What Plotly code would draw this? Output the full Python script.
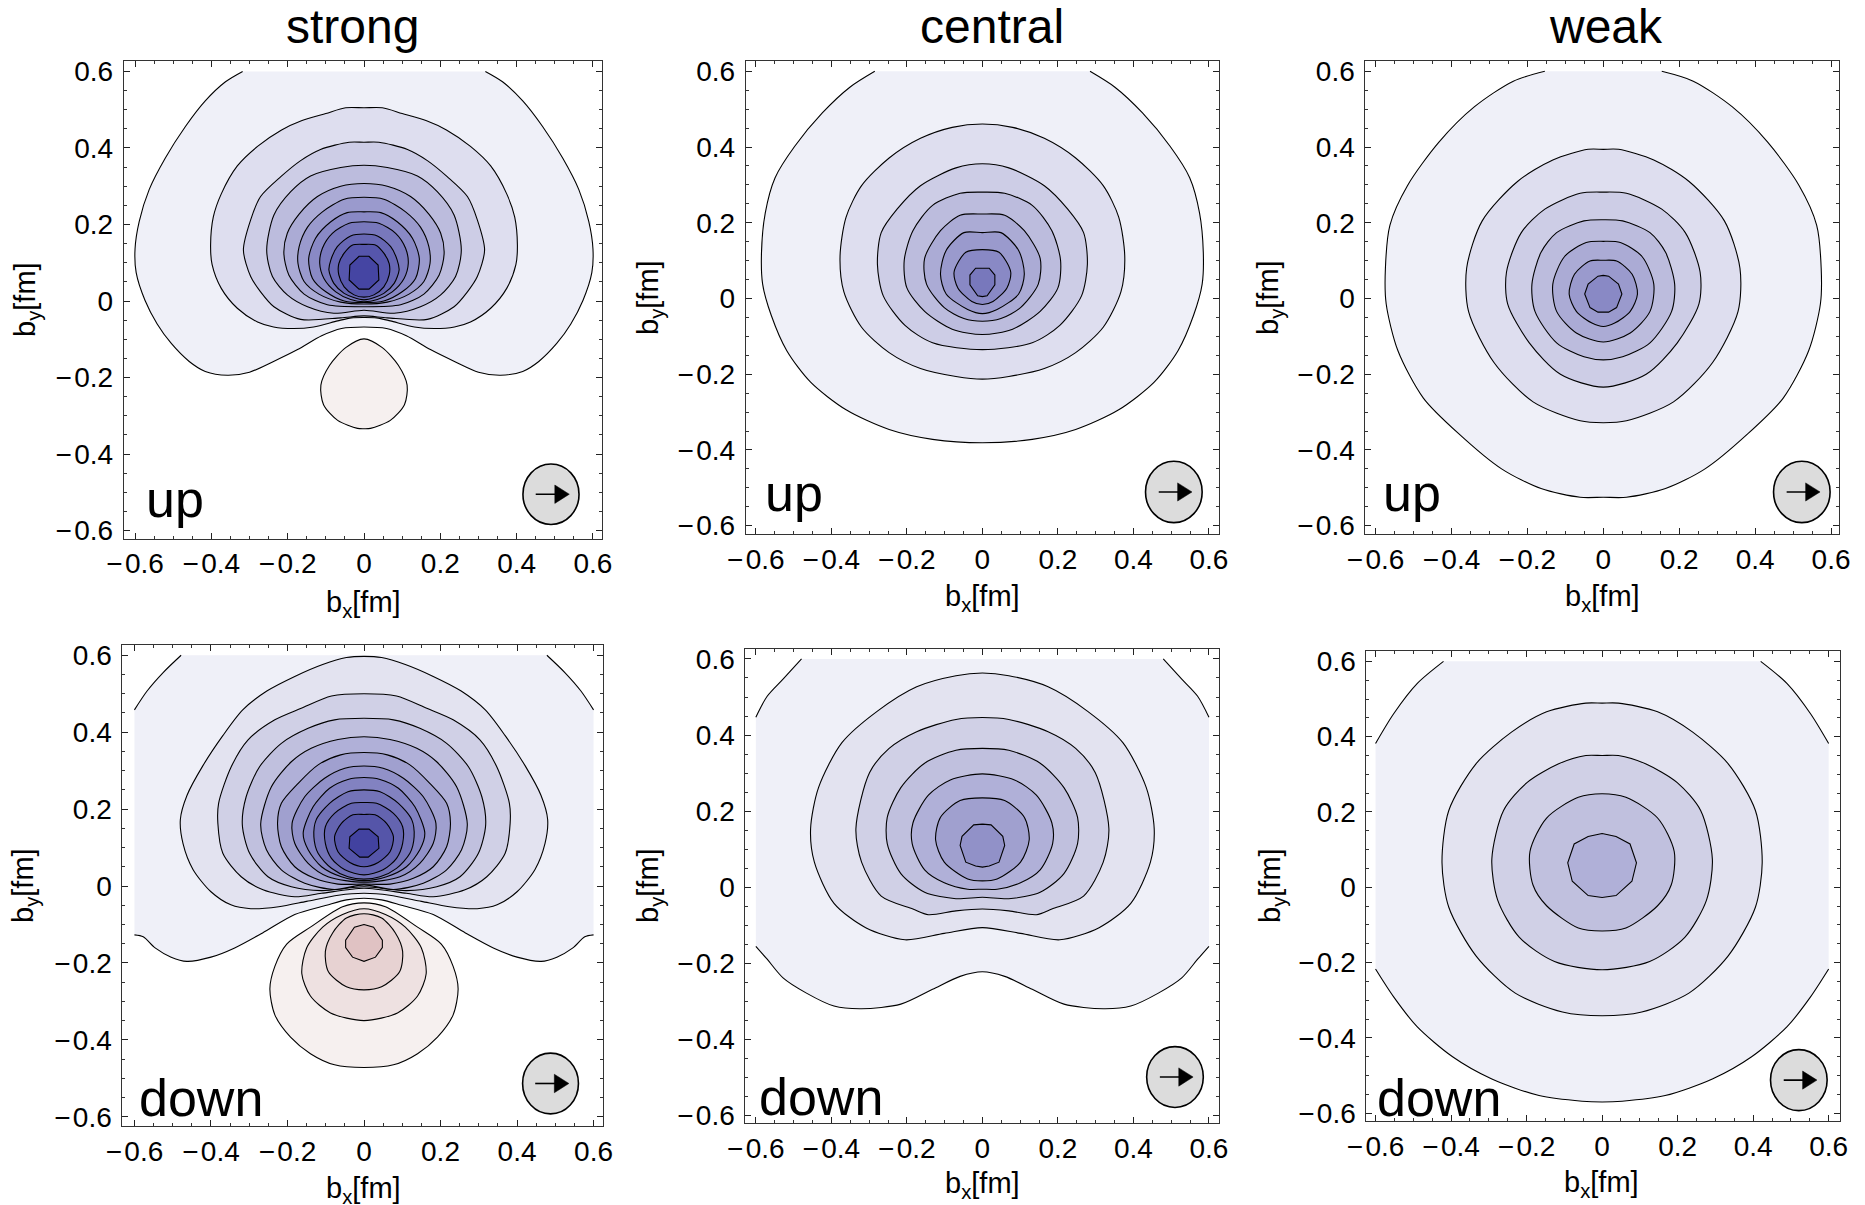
import plotly.graph_objects as go

W, H = 1865, 1205
FONT = "Liberation Sans"

# ---- contour outlines, right half (x >= 0), in fm ----
su1 = [(0,.6),(.318,.6),(.363,.573),(.416,.523),(.468,.456),(.521,.373),(.563,.291),(.589,.208),(.6,.136),(.597,.074),(.574,.002),(.542,-.06),(.505,-.111),(.458,-.158),(.416,-.184),(.358,-.194),(.30,-.186),(.237,-.158),(.174,-.127),(.111,-.091),(.059,-.072),(0,-.068)]
su2 = [(0,.505),(.048,.505),(.10,.49),(.164,.471),(.216,.447),(.279,.404),(.332,.353),(.374,.28),(.395,.219),(.402,.146),(.398,.095),(.374,.033),(.332,-.019),(.279,-.055),(.237,-.068),(.185,-.072),(.132,-.068),(.069,-.052),(.033,-.044),(0,-.043)]
su3 = [(0,.415),(.039,.415),(.114,.396),(.166,.367),(.218,.325),(.271,.273),(.297,.212),(.316,.133),(.297,.064),(.271,.024),(.236,-.015),(.166,-.048),(.061,-.044),(0,-.039)]
su4 = [(0,.355),(.061,.349),(.14,.327),(.192,.286),(.236,.225),(.255,.133),(.24,.064),(.201,.016),(.148,-.015),(.079,-.032),(0,-.024)]
su5 = [(0,.307),(.061,.30),(.122,.273),(.17,.227),(.201,.177),(.21,.125),(.197,.068),(.157,.018),(.096,-.01),(0,-.015)]
su6 = [(0,.271),(.052,.266),(.109,.233),(.148,.193),(.17,.142),(.173,.098),(.157,.051),(.118,.018),(.061,-.003),(0,-.008)]
su7 = [(0,.233),(.044,.231),(.087,.207),(.127,.164),(.145,.111),(.135,.059),(.10,.024),(.052,0),(0,-.004)]
su8 = [(0,.207),(.039,.203),(.083,.177),(.109,.138),(.116,.098),(.105,.059),(.074,.024),(.035,.004),(0,-.002)]
su9 = [(0,.175),(.035,.17),(.07,.142),(.087,.107),(.092,.081),(.079,.046),(.052,.02),(0,.003)]
su10 = [(0,.148),(.031,.146),(.052,.125),(.066,.098),(.066,.068),(.052,.037),(.026,.016),(0,.01)]
su11 = [(0,.117),(.013,.117),(.037,.094),(.039,.055),(.013,.031),(0,.031)]
su_pink = [(0,-.099),(.048,-.122),(.09,-.168),(.113,-.22),(.106,-.271),(.069,-.312),(.017,-.333),(0,-.334)]

sd1 = [(0,.6),(.478,.6),(.525,.555),(.567,.507),(.6,.458),(.6,-.127),(.577,-.132),(.546,-.161),(.504,-.185),(.463,-.196),(.40,-.185),(.338,-.161),(.265,-.122),(.181,-.074),(.098,-.05),(.046,-.036),(0,-.032)]
sd2 = [(0,.597),(.046,.594),(.108,.576),(.181,.545),(.254,.507),(.317,.458),(.369,.391),(.421,.313),(.4625,.236),(.48,.173),(.473,.11),(.447,.043),(.40,-.015),(.348,-.049),(.296,-.059),(.223,-.054),(.15,-.04),(.067,-.024),(0,-.019)]
sd3 = [(0,.50),(.085,.494),(.164,.462),(.233,.432),(.303,.38),(.347,.31),(.38,.215),(.382,.163),(.369,.085),(.321,.024),(.264,-.01),(.181,-.028),(.111,-.019),(0,-.006)]
sd4 = [(0,.436),(.077,.432),(.146,.41),(.216,.371),(.273,.31),(.308,.232),(.318,.159),(.299,.085),(.251,.024),(.19,-.002),(.111,-.012),(0,-.002)]
sd5 = [(0,.388),(.068,.381),(.138,.358),(.19,.323),(.242,.258),(.27,.161),(.255,.094),(.216,.042),(.155,.007),(.077,-.009),(0,.003)]
sd6 = [(0,.347),(.061,.341),(.12,.315),(.172,.267),(.216,.215),(.226,.163),(.216,.102),(.181,.05),(.129,.02),(.068,.005),(0,.005)]
sd7 = [(0,.312),(.05,.306),(.103,.28),(.155,.232),(.188,.163),(.181,.111),(.146,.059),(.094,.024),(0,.01)]
sd8 = [(0,.282),(.042,.277),(.09,.254),(.133,.206),(.159,.137),(.146,.094),(.111,.05),(.059,.024),(0,.014)]
sd9 = [(0,.25),(.042,.245),(.09,.215),(.125,.172),(.131,.128),(.12,.085),(.085,.046),(.042,.024),(0,.018)]
sd10 = [(0,.217),(.033,.215),(.077,.189),(.101,.154),(.101,.111),(.085,.072),(.05,.042),(0,.029)]
sd11 = [(0,.186),(.029,.185),(.059,.163),(.077,.128),(.068,.089),(.037,.061),(0,.05)]
sd12 = [(0,.148),(.013,.148),(.037,.128),(.039,.098),(.011,.075),(0,.075)]
sd_pink1 = [(0,-.044),(.056,-.054),(.14,-.107),(.202,-.151),(.233,-.209),(.246,-.267),(.233,-.335),(.192,-.393),(.14,-.436),(.077,-.465),(0,-.472)]
sd_pink2 = [(0,-.059),(.056,-.074),(.108,-.107),(.15,-.161),(.1625,-.228),(.14,-.286),(.0875,-.33),(0,-.35)]
sd_pink3 = [(0,-.072),(.046,-.083),(.082,-.122),(.101,-.17),(.093,-.223),(.046,-.262),(0,-.27)]
sd_pink4 = [(0,-.10),(.025,-.107),(.048,-.141),(.048,-.16),(.03,-.185),(0,-.196)]

cu1 = [(0,.6),(.285,.6),(.351,.558),(.424,.49),(.497,.402),(.549,.319),(.575,.226),(.585,.122),(.582,.038),(.559,-.045),(.518,-.138),(.455,-.221),(.361,-.294),(.247,-.346),(.132,-.372),(0,-.381)]
cu2 = [(0,.461),(.08,.452),(.164,.423),(.247,.371),(.32,.298),(.361,.215),(.377,.111),(.367,.018),(.32,-.076),(.247,-.143),(.164,-.185),(.07,-.206),(0,-.213)]
cu3 = [(0,.356),(.07,.345),(.164,.298),(.226,.236),(.268,.174),(.278,.09),(.2625,.007),(.205,-.071),(.132,-.117),(0,-.135)]
cu4 = [(0,.281),(.059,.278),(.132,.246),(.184,.179),(.207,.101),(.2,.028),(.153,-.034),(.08,-.081),(0,-.095)]
cu5 = [(0,.223),(.059,.22),(.111,.179),(.153,.106),(.148,.038),(.101,-.024),(.049,-.053),(0,-.06)]
cu6 = [(0,.174),(.049,.174),(.096,.127),(.111,.064),(.096,.012),(.039,-.029),(0,-.04)]
cu7 = [(0,.129),(.044,.122),(.075,.07),(.065,.028),(.028,-.008),(0,-.016)]
cu8 = [(0,.08),(.018,.08),(.033,.062),(.033,.036),(.0125,.007),(0,.005)]

cd1 = [(0,.6),(.479,.6),(.528,.547),(.57,.502),(.6,.447),(.6,-.155),(.57,-.189),(.528,-.238),(.466,-.278),(.393,-.312),(.32,-.319),(.216,-.307),(.132,-.268),(.059,-.234),(0,-.222)]
cd2 = [(0,.563),(.07,.556),(.174,.527),(.278,.463),(.372,.38),(.434,.262),(.455,.154),(.445,.066),(.393,-.042),(.309,-.106),(.205,-.138),(.101,-.121),(0,-.106)]
cd3 = [(0,.446),(.07,.441),(.174,.409),(.247,.365),(.299,.301),(.335,.154),(.32,.066),(.268,-.023),(.184,-.057),(.143,-.072),(.07,-.062),(0,-.057)]
cd4 = [(0,.365),(.07,.36),(.153,.326),(.216,.262),(.252,.184),(.252,.115),(.216,.036),(.153,-.013),(.07,-.03),(0,-.026)]
cd5 = [(0,.298),(.085,.282),(.143,.242),(.184,.169),(.186,.115),(.153,.046),(.101,.012),(.039,-.005),(0,-.005)]
cd6 = [(0,.235),(.059,.228),(.111,.184),(.124,.125),(.101,.066),(.039,.022),(0,.017)]
cd7 = [(0,.166),(.023,.164),(.054,.134),(.059,.11),(.044,.066),(.018,.056),(0,.053)]

wu1 = [(0,.6),(.154,.6),(.237,.574),(.34,.506),(.433,.413),(.516,.298),(.562,.194),(.574,.08),(.572,-.014),(.541,-.138),(.474,-.263),(.381,-.357),(.268,-.45),(.164,-.502),(.061,-.525),(0,-.525)]
wu2 = [(0,.394),(.04,.394),(.133,.366),(.226,.309),(.319,.205),(.36,.08),(.355,-.034),(.288,-.169),(.185,-.273),(.061,-.323),(0,-.328)]
wu3 = [(0,.281),(.061,.278),(.154,.236),(.216,.174),(.255,.07),(.252,-.014),(.195,-.117),(.113,-.2),(0,-.234)]
wu4 = [(0,.208),(.051,.205),(.123,.174),(.164,.122),(.188,.038),(.18,-.034),(.123,-.117),(.051,-.154),(0,-.162)]
wu5 = [(0,.151),(.045,.148),(.102,.111),(.133,.038),(.123,-.034),(.071,-.091),(0,-.115)]
wu6 = [(0,.101),(.035,.099),(.076,.064),(.09,.012),(.071,-.034),(.03,-.065),(0,-.074)]
wu7 = [(0,.061),(.014,.059),(.04,.038),(.049,.012),(.035,-.024),(.014,-.036),(0,-.036)]

wd1 = [(0,.6),(.42,.6),(.49,.541),(.552,.461),(.6,.382),(.6,-.217),(.552,-.291),(.49,-.37),(.396,-.45),(.292,-.509),(.167,-.553),(.053,-.568),(0,-.57)]
wd2 = [(0,.489),(.043,.489),(.147,.466),(.24,.412),(.334,.328),(.406,.204),(.424,.065),(.406,-.053),(.334,-.182),(.23,-.281),(.105,-.331),(0,-.341)]
wd3 = [(0,.35),(.043,.35),(.115,.328),(.199,.278),(.261,.204),(.292,.075),(.2765,-.034),(.219,-.133),(.126,-.197),(0,-.219)]
wd4 = [(0,.2485),(.063,.239),(.147,.184),(.191,.095),(.183,.006),(.147,-.049),(.063,-.108),(0,-.116)]
wd5 = [(0,.143),(.037,.135),(.074,.115),(.091,.065),(.079,.016),(.037,-.022),(0,-.027)]

strong_up = [su1, su2, su3, su4, su5, su6, su7, su8, su9, su10, su11]
strong_down = [sd1, sd2, sd3, sd4, sd5, sd6, sd7, sd8, sd9, sd10, sd11, sd12]
central_up = [cu1, cu2, cu3, cu4, cu5, cu6, cu7, cu8]
central_down = [cd1, cd2, cd3, cd4, cd5, cd6, cd7]
weak_up = [wu1, wu2, wu3, wu4, wu5, wu6, wu7]
weak_down = [wd1, wd2, wd3, wd4, wd5]
strong_up_neg = [su_pink]
strong_down_neg = [sd_pink1, sd_pink2, sd_pink3, sd_pink4]

# magnetisation-arrow disc: centre x, centre y, radius x, radius y (fm)
disc_su = (.49, -.505, .0735, .079)
disc_sd = (.4875, -.5135, .073, .079)
disc_cu = (.507, -.511, .075, .081)
disc_cd = (.51, -.4985, .075, .08)
disc_wu = (.523, -.511, .0745, .081)
disc_wd = (.521, -.512, .075, .081)

column_titles = ["strong", "central", "weak"]
tick_vals = [-.6, -.4, -.2, 0, .2, .4, .6]
tick_text = ["\u2212\u200a0.6", "\u2212\u200a0.4", "\u2212\u200a0.2", "0", "0.2", "0.4", "0.6"]

# ---- styles ----
BLUES_UP = ["#eff0f8","#dedeef","#cdcde6","#bcbcdd","#ababd5","#9a9acd","#8989c5","#7878bc","#6767b4","#5656ac","#4545a3"]
BLUES_DOWN = ["#eff0f8","#e3e3f0","#d0d0e6","#c0c0de","#b0b0d8","#a0a0cf","#9191c8","#8282c1","#7373b8","#6464b0","#5555a9","#4242a0"]
PINKS = ["#f6f0ef","#eee1e1","#e7d2d2","#e0c2c3"]
LINE = "#000000"

# pixel frames: left, right, top, bottom, x zero, x unit, y zero, y unit
frames = [
    (123.7, 601.8, 60.7, 538.8, 364.0, 381.6, 301.0, 382.6),
    (745.7, 1219.1, 60.7, 534.0, 982.4, 377.6, 298.5, 378.6),
    (1365.4, 1838.8, 60.7, 534.0, 1603.3, 379.6, 298.5, 378.6),
    (122.4, 603.0, 644.6, 1126.0, 364.0, 382.6, 886.0, 384.6),
    (745.4, 1219.1, 649.4, 1123.3, 982.4, 377.6, 887.3, 380.6),
    (1366.4, 1840.0, 650.6, 1121.3, 1602.1, 377.6, 887.3, 376.6),
]
panels = [
    (strong_up, strong_up_neg, BLUES_UP, disc_su, "up", (175, 499), (363, 604), (27, 300)),
    (central_up, [], BLUES_UP, disc_cu, "up", (794, 493), (982, 598), (650, 298)),
    (weak_up, [], BLUES_UP, disc_wu, "up", (1412, 493), (1602, 598), (1270, 298)),
    (strong_down, strong_down_neg, BLUES_DOWN, disc_sd, "down", (201, 1098), (363, 1190), (25, 886)),
    (central_down, [], BLUES_DOWN, disc_cd, "down", (821, 1097), (982, 1185), (650, 886)),
    (weak_down, [], BLUES_DOWN, disc_wd, "down", (1439, 1098), (1601, 1184), (1272, 886)),
]
title_pos = [(352, 26), (992, 26), (1606, 26)]


def close_outline(half):
    left = [(-x, y) for x, y in reversed(half) if x != 0]
    return half + left + [half[0]]


def is_clipped(half):
    return any(abs(x) >= .6 or abs(y) >= .6 for x, y in half)


def on_box_edge(a, b):
    return (a[1] == b[1] and abs(a[1]) == .6) or (a[0] == b[0] and abs(a[0]) == .6)


fig = go.Figure()
layout = dict(
    width=W, height=H, margin=dict(l=0, r=0, t=0, b=0), showlegend=False,
    paper_bgcolor="white", plot_bgcolor="white", font=dict(family=FONT, color="black"),
)
shapes, annotations = [], []


def px_ann(text, pos, size, angle=0):
    annotations.append(dict(
        text=text, x=pos[0] / W, y=1 - pos[1] / H, xref="paper", yref="paper",
        xanchor="center", yanchor="middle", showarrow=False, textangle=angle,
        font=dict(size=size, family=FONT, color="black"),
    ))


def add_outline(half, colour, xa, ya, smooth):
    pts = close_outline(half)
    xs = [p[0] for p in pts]
    ys = [p[1] for p in pts]
    clipped = is_clipped(half)
    fig.add_trace(go.Scatter(
        x=xs, y=ys, xaxis=xa, yaxis=ya, mode="lines", fill="toself", fillcolor=colour,
        hoverinfo="skip",
        line=dict(color=LINE if not clipped else "rgba(0,0,0,0)", width=1.1 if not clipped else 0,
                  shape="spline" if smooth and not clipped else "linear", smoothing=.8),
    ))
    if clipped:
        lx, ly = [pts[0][0]], [pts[0][1]]
        for a, b in zip(pts, pts[1:]):
            if on_box_edge(a, b):
                lx.append(None)
                ly.append(None)
            lx.append(b[0])
            ly.append(b[1])
        fig.add_trace(go.Scatter(x=lx, y=ly, xaxis=xa, yaxis=ya, mode="lines", hoverinfo="skip",
                                 connectgaps=False,
                                 line=dict(color=LINE, width=1.1, shape="spline", smoothing=.8)))


for i, (frame, panel) in enumerate(zip(frames, panels)):
    L, R, T, B, x0, xu, y0, yu = frame
    blue, neg, blues, disc, label, label_pos, xt_pos, yt_pos = panel
    n = i + 1
    xa, ya = f"x{n}", f"y{n}"
    axis_common = dict(
        tickmode="array", tickvals=tick_vals, ticktext=tick_text, ticks="inside", ticklen=6,
        tickwidth=1, tickcolor="#222", showgrid=False, zeroline=False, showline=True,
        linecolor="#333", linewidth=1, mirror="allticks", automargin=False,
        tickfont=dict(size=28, family=FONT, color="black"),
        minor=dict(tickmode="linear", tick0=0, dtick=.05, ticks="inside", ticklen=3, tickcolor="#333", tickwidth=1),
    )
    layout[f"xaxis{n}"] = dict(axis_common, domain=[L / W, R / W], anchor=ya,
                               range=[(L - x0) / xu, (R - x0) / xu])
    layout[f"yaxis{n}"] = dict(axis_common, domain=[1 - B / H, 1 - T / H], anchor=xa,
                               range=[(y0 - B) / yu, (y0 - T) / yu], ticklabelstandoff=4)
    for k, half in enumerate(blue):
        add_outline(half, blues[k], xa, ya, k < len(blue) - 1)
    for k, half in enumerate(neg):
        add_outline(half, PINKS[k], xa, ya, k < len(neg) - 1 or len(neg) == 1)

    cx, cy, rx, ry = disc
    shapes.append(dict(type="circle", xref=xa, yref=ya, x0=cx - rx, x1=cx + rx, y0=cy - ry, y1=cy + ry,
                       fillcolor="#dcdcdc", line=dict(color="black", width=1.6)))
    shapes.append(dict(type="line", xref=xa, yref=ya, x0=cx - .04, x1=cx + .02, y0=cy, y1=cy,
                       line=dict(color="black", width=1.6)))
    shapes.append(dict(type="path", xref=xa, yref=ya, fillcolor="black", line=dict(color="black", width=.5),
                       path=f"M {cx + .01} {cy + .024} L {cx + .048} {cy} L {cx + .01} {cy - .024} Z"))
    px_ann(label, label_pos, 52)
    px_ann("b<sub>x</sub>[fm]", xt_pos, 29)
    px_ann("b<sub>y</sub>[fm]", yt_pos, 29, -90)

for text, pos in zip(column_titles, title_pos):
    px_ann(text, pos, 48)

layout["shapes"] = shapes
layout["annotations"] = annotations
fig.update_layout(**layout)
fig.write_html("out.html", config={"displayModeBar": False},
               post_script="document.body.style.margin='0';document.body.style.overflow='hidden';")
